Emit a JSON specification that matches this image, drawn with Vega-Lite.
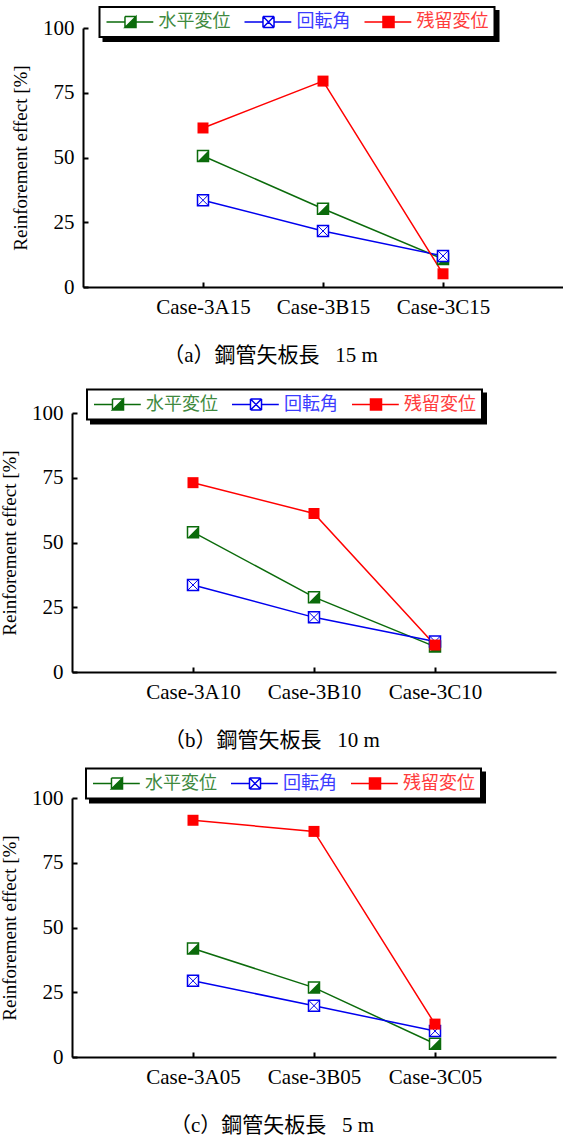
{
  "$schema": "https://vega.github.io/schema/vega-lite/v6.json",
  "padding": {"left": 0, "top": 6, "right": 0, "bottom": 0},
  "background": "white",
  "data": {"values": [
    {"panel": "a", "case": "Case-3A15", "series": "水平変位", "value": 50.6},
    {"panel": "a", "case": "Case-3B15", "series": "水平変位", "value": 30.2},
    {"panel": "a", "case": "Case-3C15", "series": "水平変位", "value": 10.8},
    {"panel": "a", "case": "Case-3A15", "series": "回転角", "value": 33.5},
    {"panel": "a", "case": "Case-3B15", "series": "回転角", "value": 21.6},
    {"panel": "a", "case": "Case-3C15", "series": "回転角", "value": 12.0},
    {"panel": "a", "case": "Case-3A15", "series": "残留変位", "value": 61.4},
    {"panel": "a", "case": "Case-3B15", "series": "残留変位", "value": 79.5},
    {"panel": "a", "case": "Case-3C15", "series": "残留変位", "value": 5.1},
    {"panel": "b", "case": "Case-3A10", "series": "水平変位", "value": 54.0},
    {"panel": "b", "case": "Case-3B10", "series": "水平変位", "value": 28.9},
    {"panel": "b", "case": "Case-3C10", "series": "水平変位", "value": 9.8},
    {"panel": "b", "case": "Case-3A10", "series": "回転角", "value": 33.6},
    {"panel": "b", "case": "Case-3B10", "series": "回転角", "value": 21.1},
    {"panel": "b", "case": "Case-3C10", "series": "回転角", "value": 11.8},
    {"panel": "b", "case": "Case-3A10", "series": "残留変位", "value": 73.1},
    {"panel": "b", "case": "Case-3B10", "series": "残留変位", "value": 61.2},
    {"panel": "b", "case": "Case-3C10", "series": "残留変位", "value": 10.4},
    {"panel": "c", "case": "Case-3A05", "series": "水平変位", "value": 41.9},
    {"panel": "c", "case": "Case-3B05", "series": "水平変位", "value": 26.8},
    {"panel": "c", "case": "Case-3C05", "series": "水平変位", "value": 5.1},
    {"panel": "c", "case": "Case-3A05", "series": "回転角", "value": 29.4},
    {"panel": "c", "case": "Case-3B05", "series": "回転角", "value": 19.8},
    {"panel": "c", "case": "Case-3C05", "series": "回転角", "value": 10.0},
    {"panel": "c", "case": "Case-3A05", "series": "残留変位", "value": 91.4},
    {"panel": "c", "case": "Case-3B05", "series": "残留変位", "value": 87.1},
    {"panel": "c", "case": "Case-3C05", "series": "残留変位", "value": 12.7}
  ]},
  "bounds": "flush",
  "spacing": 126,
  "resolve": {"scale": {"x": "independent", "y": "independent", "color": "independent", "opacity": "independent"}, "legend": {"color": "independent", "opacity": "independent"}},
  "vconcat": [
    {
      "width": 491, "height": 259,
      "title": {"text": "（a）鋼管矢板長\u00a0\u00a0\u00a015 m", "dx": -47},
      "transform": [{"filter": "datum.panel === 'a'"}],
      "encoding": {
        "x": {"field": "case", "type": "nominal", "scale": {"type": "point", "padding": 1, "range": [11, 491]}, "axis": {"title": null}},
        "y": {"field": "value", "type": "quantitative", "scale": {"domain": [0, 100]}, "axis": {"offset": -11, "values": [0, 25, 50, 75, 100], "title": "Reinforement effect [%]"}}
      },
      "layer": [
        {"mark": {"type": "line", "strokeWidth": 1.5},
         "encoding": {
           "color": {"field": "series", "type": "nominal", "scale": {"domain": ["水平変位", "回転角", "残留変位"], "range": ["#0b6b0b", "#0000ee", "#ff0000"]}, "legend": {"legendX": 27.5, "legendY": -21, "zindex": 2, "symbolOpacity": 1, "fillColor": "white", "strokeColor": "black",
              "encode": {
                "symbols": {"update": {
                  "shape": {"signal": "datum.value==='水平変位' ? 'M-1,0L-0.23,0M0.23,0L0.95,0M-0.23,-0.23L0.23,-0.23M0.23,-0.23L0.23,0.23M0.23,0.23L-0.23,0.23M-0.23,0.23L-0.23,-0.23M0.23,-0.23L0.23,0.23L-0.23,0.23Z' : datum.value==='回転角' ? 'M-1,0L-0.23,0M0.23,0L0.95,0M-0.23,-0.23L0.23,-0.23M0.23,-0.23L0.23,0.23M0.23,0.23L-0.23,0.23M-0.23,0.23L-0.23,-0.23M-0.23,-0.23L0.23,0.23M-0.23,0.23L0.23,-0.23' : 'M-1,0L-0.23,0M0.23,0L0.95,0M-0.23,-0.23L0.23,-0.23L0.23,0.23L-0.23,0.23Z'"},
                  "fill": {"signal": "datum.value==='水平変位' ? '#0b6b0b' : datum.value==='残留変位' ? '#ff0000' : 'transparent'"},
                  "stroke": {"signal": "datum.value==='水平変位' ? '#0b6b0b' : datum.value==='回転角' ? '#0000ee' : '#ff0000'"},
                  "opacity": {"value": 1}
                }},
                "labels": {"update": {"fill": {"signal": "datum.value==='水平変位' ? '#3f8a3f' : datum.value==='回転角' ? '#3c3cff' : '#ff3c3c'"}}},
                "legend": {"update": {"fill": {"value": "white"}, "stroke": {"value": "black"}, "strokeWidth": {"value": 2}}}
              }}},
           "opacity": {"field": "series", "type": "nominal", "scale": {"domain": ["残留変位", "水平変位", "回転角"], "range": [1, 1]}, "legend": {"labelExpr": "''", "columnPadding": 112, "legendX": 31.5, "legendY": -17, "zindex": 1, "symbolType": "M-1,0L0.95,0", "symbolOpacity": 0, "labelOpacity": 0, "fillColor": "black", "strokeColor": "black",
              "encode": {"legend": {"update": {"fill": {"value": "black"}, "stroke": {"value": "black"}, "strokeWidth": {"value": 2}}}}}}
         }},
        {"transform": [{"filter": "datum.series === '水平変位'"}], "mark": {"type": "point", "shape": "square", "filled": true, "fill": "white", "stroke": "#0b6b0b", "strokeWidth": 1.5, "size": 121, "opacity": 1}},
        {"transform": [{"filter": "datum.series === '水平変位'"}], "mark": {"type": "point", "shape": "M1,-1L1,1L-1,1Z", "filled": true, "color": "#0b6b0b", "strokeWidth": 0, "size": 121, "opacity": 1}},
        {"transform": [{"filter": "datum.series === '回転角'"}], "mark": {"type": "point", "shape": "square", "filled": true, "fill": "white", "stroke": "#0000ee", "strokeWidth": 1.5, "size": 121, "opacity": 1}},
        {"transform": [{"filter": "datum.series === '回転角'"}], "mark": {"type": "point", "shape": "M-1,-1L1,1M-1,1L1,-1", "filled": false, "color": "#0000ee", "strokeWidth": 1, "size": 121, "opacity": 1}},
        {"transform": [{"filter": "datum.series === '残留変位'"}], "mark": {"type": "point", "shape": "square", "filled": true, "color": "#ff0000", "strokeWidth": 1, "size": 121, "opacity": 1}}
      ]
    },
    {
      "width": 484, "height": 259,
      "title": {"text": "（b）鋼管矢板長\u00a0\u00a0\u00a010 m", "dx": -42},
      "transform": [{"filter": "datum.panel === 'b'"}],
      "encoding": {
        "x": {"field": "case", "type": "nominal", "scale": {"type": "point", "padding": 1}, "axis": {"title": null}},
        "y": {"field": "value", "type": "quantitative", "scale": {"domain": [0, 100]}, "axis": {"values": [0, 25, 50, 75, 100], "title": "Reinforement effect [%]"}}
      },
      "layer": [
        {"mark": {"type": "line", "strokeWidth": 1.5},
         "encoding": {
           "color": {"field": "series", "type": "nominal", "scale": {"domain": ["水平変位", "回転角", "残留変位"], "range": ["#0b6b0b", "#0000ee", "#ff0000"]}, "legend": {"legendX": 15, "legendY": -23.5, "zindex": 2, "symbolOpacity": 1, "fillColor": "white", "strokeColor": "black",
              "encode": {
                "symbols": {"update": {
                  "shape": {"signal": "datum.value==='水平変位' ? 'M-1,0L-0.23,0M0.23,0L0.95,0M-0.23,-0.23L0.23,-0.23M0.23,-0.23L0.23,0.23M0.23,0.23L-0.23,0.23M-0.23,0.23L-0.23,-0.23M0.23,-0.23L0.23,0.23L-0.23,0.23Z' : datum.value==='回転角' ? 'M-1,0L-0.23,0M0.23,0L0.95,0M-0.23,-0.23L0.23,-0.23M0.23,-0.23L0.23,0.23M0.23,0.23L-0.23,0.23M-0.23,0.23L-0.23,-0.23M-0.23,-0.23L0.23,0.23M-0.23,0.23L0.23,-0.23' : 'M-1,0L-0.23,0M0.23,0L0.95,0M-0.23,-0.23L0.23,-0.23L0.23,0.23L-0.23,0.23Z'"},
                  "fill": {"signal": "datum.value==='水平変位' ? '#0b6b0b' : datum.value==='残留変位' ? '#ff0000' : 'transparent'"},
                  "stroke": {"signal": "datum.value==='水平変位' ? '#0b6b0b' : datum.value==='回転角' ? '#0000ee' : '#ff0000'"},
                  "opacity": {"value": 1}
                }},
                "labels": {"update": {"fill": {"signal": "datum.value==='水平変位' ? '#3f8a3f' : datum.value==='回転角' ? '#3c3cff' : '#ff3c3c'"}}},
                "legend": {"update": {"fill": {"value": "white"}, "stroke": {"value": "black"}, "strokeWidth": {"value": 2}}}
              }}},
           "opacity": {"field": "series", "type": "nominal", "scale": {"domain": ["残留変位", "水平変位", "回転角"], "range": [1, 1]}, "legend": {"labelExpr": "''", "columnPadding": 112, "legendX": 19, "legendY": -19.5, "zindex": 1, "symbolType": "M-1,0L0.95,0", "symbolOpacity": 0, "labelOpacity": 0, "fillColor": "black", "strokeColor": "black",
              "encode": {"legend": {"update": {"fill": {"value": "black"}, "stroke": {"value": "black"}, "strokeWidth": {"value": 2}}}}}}
         }},
        {"transform": [{"filter": "datum.series === '水平変位'"}], "mark": {"type": "point", "shape": "square", "filled": true, "fill": "white", "stroke": "#0b6b0b", "strokeWidth": 1.5, "size": 121, "opacity": 1}},
        {"transform": [{"filter": "datum.series === '水平変位'"}], "mark": {"type": "point", "shape": "M1,-1L1,1L-1,1Z", "filled": true, "color": "#0b6b0b", "strokeWidth": 0, "size": 121, "opacity": 1}},
        {"transform": [{"filter": "datum.series === '回転角'"}], "mark": {"type": "point", "shape": "square", "filled": true, "fill": "white", "stroke": "#0000ee", "strokeWidth": 1.5, "size": 121, "opacity": 1}},
        {"transform": [{"filter": "datum.series === '回転角'"}], "mark": {"type": "point", "shape": "M-1,-1L1,1M-1,1L1,-1", "filled": false, "color": "#0000ee", "strokeWidth": 1, "size": 121, "opacity": 1}},
        {"transform": [{"filter": "datum.series === '残留変位'"}], "mark": {"type": "point", "shape": "square", "filled": true, "color": "#ff0000", "strokeWidth": 1, "size": 121, "opacity": 1}}
      ]
    },
    {
      "width": 484, "height": 259,
      "title": {"text": "（c）鋼管矢板長\u00a0\u00a0\u00a05 m", "dx": -42},
      "transform": [{"filter": "datum.panel === 'c'"}],
      "encoding": {
        "x": {"field": "case", "type": "nominal", "scale": {"type": "point", "padding": 1}, "axis": {"title": null}},
        "y": {"field": "value", "type": "quantitative", "scale": {"domain": [0, 100]}, "axis": {"values": [0, 25, 50, 75, 100], "title": "Reinforement effect [%]"}}
      },
      "layer": [
        {"mark": {"type": "line", "strokeWidth": 1.5},
         "encoding": {
           "color": {"field": "series", "type": "nominal", "scale": {"domain": ["水平変位", "回転角", "残留変位"], "range": ["#0b6b0b", "#0000ee", "#ff0000"]}, "legend": {"legendX": 14, "legendY": -29.5, "zindex": 2, "symbolOpacity": 1, "fillColor": "white", "strokeColor": "black",
              "encode": {
                "symbols": {"update": {
                  "shape": {"signal": "datum.value==='水平変位' ? 'M-1,0L-0.23,0M0.23,0L0.95,0M-0.23,-0.23L0.23,-0.23M0.23,-0.23L0.23,0.23M0.23,0.23L-0.23,0.23M-0.23,0.23L-0.23,-0.23M0.23,-0.23L0.23,0.23L-0.23,0.23Z' : datum.value==='回転角' ? 'M-1,0L-0.23,0M0.23,0L0.95,0M-0.23,-0.23L0.23,-0.23M0.23,-0.23L0.23,0.23M0.23,0.23L-0.23,0.23M-0.23,0.23L-0.23,-0.23M-0.23,-0.23L0.23,0.23M-0.23,0.23L0.23,-0.23' : 'M-1,0L-0.23,0M0.23,0L0.95,0M-0.23,-0.23L0.23,-0.23L0.23,0.23L-0.23,0.23Z'"},
                  "fill": {"signal": "datum.value==='水平変位' ? '#0b6b0b' : datum.value==='残留変位' ? '#ff0000' : 'transparent'"},
                  "stroke": {"signal": "datum.value==='水平変位' ? '#0b6b0b' : datum.value==='回転角' ? '#0000ee' : '#ff0000'"},
                  "opacity": {"value": 1}
                }},
                "labels": {"update": {"fill": {"signal": "datum.value==='水平変位' ? '#3f8a3f' : datum.value==='回転角' ? '#3c3cff' : '#ff3c3c'"}}},
                "legend": {"update": {"fill": {"value": "white"}, "stroke": {"value": "black"}, "strokeWidth": {"value": 2}}}
              }}},
           "opacity": {"field": "series", "type": "nominal", "scale": {"domain": ["残留変位", "水平変位", "回転角"], "range": [1, 1]}, "legend": {"labelExpr": "''", "columnPadding": 112, "legendX": 18, "legendY": -25.5, "zindex": 1, "symbolType": "M-1,0L0.95,0", "symbolOpacity": 0, "labelOpacity": 0, "fillColor": "black", "strokeColor": "black",
              "encode": {"legend": {"update": {"fill": {"value": "black"}, "stroke": {"value": "black"}, "strokeWidth": {"value": 2}}}}}}
         }},
        {"transform": [{"filter": "datum.series === '水平変位'"}], "mark": {"type": "point", "shape": "square", "filled": true, "fill": "white", "stroke": "#0b6b0b", "strokeWidth": 1.5, "size": 121, "opacity": 1}},
        {"transform": [{"filter": "datum.series === '水平変位'"}], "mark": {"type": "point", "shape": "M1,-1L1,1L-1,1Z", "filled": true, "color": "#0b6b0b", "strokeWidth": 0, "size": 121, "opacity": 1}},
        {"transform": [{"filter": "datum.series === '回転角'"}], "mark": {"type": "point", "shape": "square", "filled": true, "fill": "white", "stroke": "#0000ee", "strokeWidth": 1.5, "size": 121, "opacity": 1}},
        {"transform": [{"filter": "datum.series === '回転角'"}], "mark": {"type": "point", "shape": "M-1,-1L1,1M-1,1L1,-1", "filled": false, "color": "#0000ee", "strokeWidth": 1, "size": 121, "opacity": 1}},
        {"transform": [{"filter": "datum.series === '残留変位'"}], "mark": {"type": "point", "shape": "square", "filled": true, "color": "#ff0000", "strokeWidth": 1, "size": 121, "opacity": 1}}
      ]
    }
  ],
  "config": {
    "view": {"stroke": null},
    "axis": {"domainColor": "black", "domainWidth": 2, "tickColor": "black", "tickWidth": 2, "tickSize": -5, "grid": false, "labelFont": "Liberation Serif", "labelFontSize": 21, "labelColor": "black", "labelPadding": 14, "titleFont": "Liberation Serif", "titleFontSize": 19, "titleFontWeight": "normal", "titleColor": "black", "titlePadding": 12},
    "axisX": {"labelAngle": 0, "labelPadding": 14},
    "legend": {"orient": "none", "direction": "horizontal", "title": null, "padding": 6, "strokeWidth": 2, "symbolType": "square", "symbolSize": 2304, "clipHeight": 18, "symbolStrokeWidth": 1.5, "symbolOffset": 0, "labelOffset": 3, "columnPadding": 13, "labelFont": "Noto Sans CJK JP", "labelFontSize": 18, "labelLimit": 200},
    "title": {"orient": "bottom", "anchor": "middle", "frame": "group", "font": "Liberation Serif, Noto Sans CJK JP", "fontSize": 21, "fontWeight": "normal", "color": "black", "offset": 28}
  }
}
